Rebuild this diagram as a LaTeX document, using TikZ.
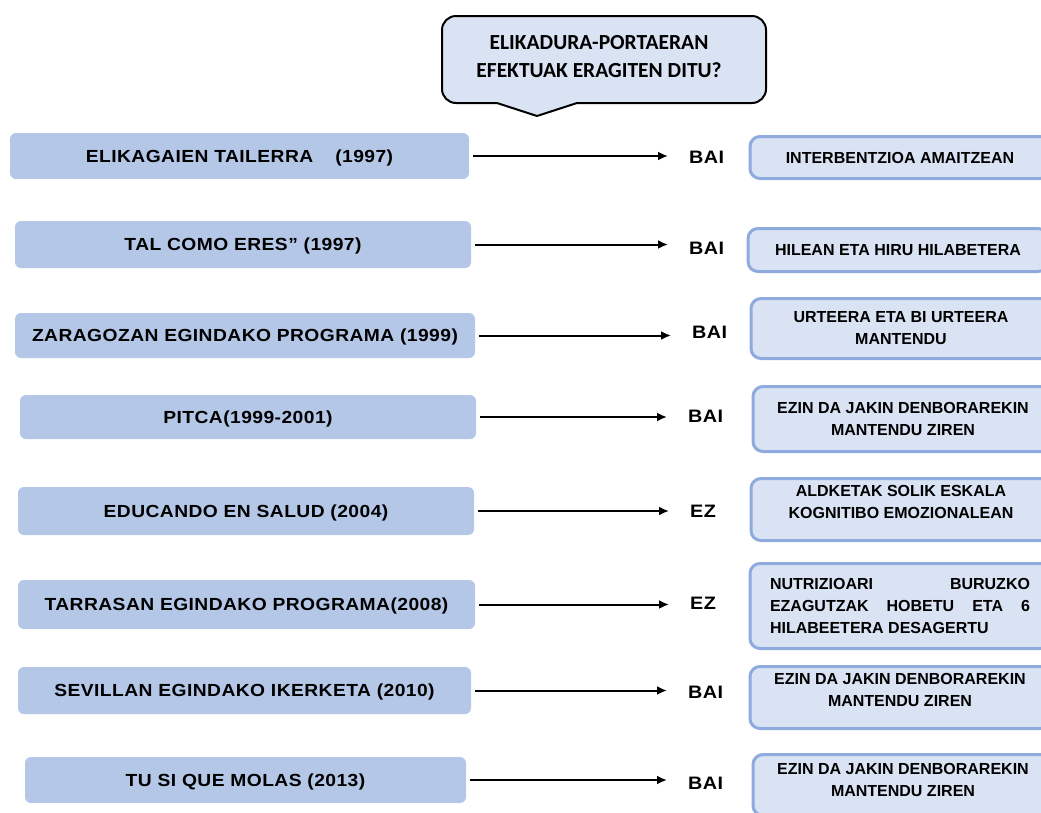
\documentclass[tikz,border=0pt]{standalone}
\usepackage{fontspec}
\setmainfont{Liberation Sans}
\newfontfamily\lsw{Liberation Sans}[FakeStretch=1.1, LetterSpace=2.5]
\newfontfamily\calib{Carlito}
\usetikzlibrary{arrows.meta}
\definecolor{leftfill}{HTML}{B4C7E7}
\definecolor{rightfill}{HTML}{DAE3F3}
\definecolor{rightdraw}{HTML}{8FAADC}
\begin{document}
\begin{tikzpicture}[x=1pt,y=-1pt,
  lbox/.style={fill=leftfill, rounded corners=6pt, inner sep=0pt, text depth=0pt,
    font=\lsw\bfseries\fontsize{17.5}{21}\selectfont},
  rbox/.style={fill=rightfill, draw=rightdraw, line width=3pt, rounded corners=10pt,
    inner sep=0pt, anchor=west, minimum width=300pt, align=center,
    font=\bfseries\fontsize{16}{22}\selectfont},
  ans/.style={anchor=west, inner sep=0pt, font=\lsw\bfseries\fontsize{18}{21}\selectfont},
  arr/.style={-{Latex[length=10pt,width=9pt]}, line width=2pt, shorten <=4pt, shorten >=21pt}
]
\useasboundingbox (0,0) rectangle (1041,812);
\clip (0,0) rectangle (1041,812);

% callout
\draw[fill=rightfill, line width=2pt, line join=round]
  (537,116) -- (577,103) [rounded corners=14pt] -- (766,103) -- (766,16) -- (442,16) -- (442,103) [sharp corners] -- (497,103) -- cycle;
\node[font=\calib\bfseries\fontsize{21.5}{28}\selectfont, align=center, inner sep=0pt] (Q) at (599,57)
  {ELIKADURA-PORTAERAN\\EFEKTUAK ERAGITEN DITU?};

% left boxes
\node[lbox, minimum width=459pt, minimum height=46pt] (L1) at (239.5,156) {ELIKAGAIEN TAILERRA\hspace{22pt}(1997)};
\node[lbox, minimum width=456pt, minimum height=47pt] (L2) at (243,244.5) {TAL COMO ERES” (1997)};
\node[lbox, minimum width=460pt, minimum height=45pt] (L3) at (245,335.5) {ZARAGOZAN EGINDAKO PROGRAMA (1999)};
\node[lbox, minimum width=456pt, minimum height=44pt] (L4) at (248,417) {PITCA(1999-2001)};
\node[lbox, minimum width=456pt, minimum height=48pt] (L5) at (246,511) {EDUCANDO EN SALUD (2004)};
\node[lbox, minimum width=457pt, minimum height=49pt] (L6) at (246.5,604.5) {TARRASAN EGINDAKO PROGRAMA(2008)};
\node[lbox, minimum width=453pt, minimum height=47pt] (L7) at (244.5,690.5) {SEVILLAN EGINDAKO IKERKETA (2010)};
\node[lbox, minimum width=441pt, minimum height=46pt] (L8) at (245.5,780) {TU SI QUE MOLAS (2013)};

% answers
\node[ans] (A1) at (689,157) {BAI};
\node[ans] (A2) at (689,248) {BAI};
\node[ans] (A3) at (692,332) {BAI};
\node[ans] (A4) at (688,416) {BAI};
\node[ans] (A5) at (690,511) {EZ};
\node[ans] (A6) at (690,603) {EZ};
\node[ans] (A7) at (688,692) {BAI};
\node[ans] (A8) at (688,783) {BAI};

\foreach \i in {1,...,8} {\draw[arr] (L\i.east) -- (L\i.east -| A\i.west);}

% right boxes
\node[rbox, minimum height=42pt] (R1) at (748.5,157.5) {INTERBENTZIOA AMAITZEAN};
\node[rbox, minimum height=43pt] (R2) at (746.5,250) {HILEAN ETA HIRU HILABETERA};
\node[rbox, minimum height=60pt] (R3) at (749.5,328.5) {URTEERA ETA BI URTEERA\\MANTENDU};
\node[rbox, minimum height=65pt] (R4) at (751.5,419) {EZIN DA JAKIN DENBORAREKIN\\MANTENDU ZIREN};
\node[rbox, minimum height=62pt] (R5) at (749.5,509.5) {ALDKETAK SOLIK ESKALA\\KOGNITIBO EMOZIONALEAN\\[-6pt]\mbox{}};
\node[rbox, minimum height=85pt] (R6) at (748.5,606)
  {\makebox[260pt][s]{NUTRIZIOARI BURUZKO}\\\makebox[260pt][s]{EZAGUTZAK HOBETU ETA 6}\\\makebox[260pt][l]{HILABEETERA DESAGERTU}};
\node[rbox, minimum height=62pt] (R7) at (748.5,697.5) {EZIN DA JAKIN DENBORAREKIN\\MANTENDU ZIREN\\[-6pt]\mbox{}};
\node[rbox, minimum height=61pt] (R8) at (751.5,785) {EZIN DA JAKIN DENBORAREKIN\\MANTENDU ZIREN\\[-12pt]\mbox{}};
\end{tikzpicture}
\end{document}
